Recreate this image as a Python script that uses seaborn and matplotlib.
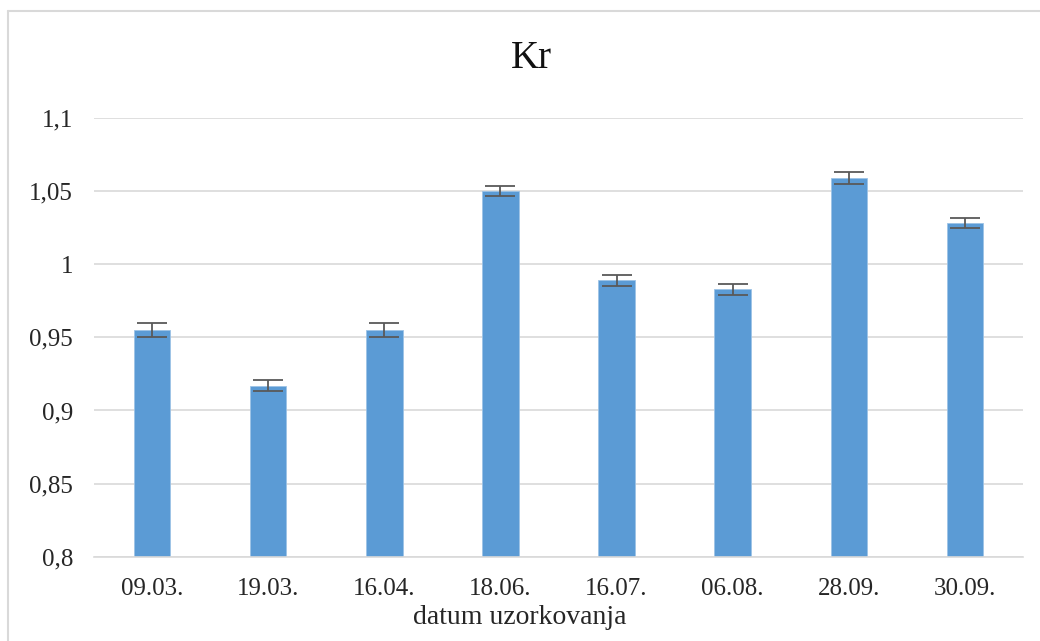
import matplotlib
matplotlib.use("Agg")
import matplotlib.pyplot as plt
from matplotlib.lines import Line2D
import seaborn as sns
import pandas as pd
import numpy as np

dates = ["09.03.", "19.03.", "16.04.", "18.06.", "16.07.", "06.08.", "28.09.", "30.09."]
values = [0.955, 0.917, 0.955, 1.050, 0.989, 0.983, 1.059, 1.028]
errors = [0.0045, 0.0037, 0.0045, 0.0033, 0.0037, 0.0038, 0.0042, 0.0034]
yticks = [0.8, 0.85, 0.9, 0.95, 1.0, 1.05, 1.1]
ytick_labels = ["0,8", "0,85", "0,9", "0,95", "1", "1,05", "1,1"]

sns.set_theme(style="white")
plt.rcParams['font.family'] = ['Liberation Serif', 'DejaVu Serif']

df = pd.DataFrame({"datum": dates, "Kr": values})

fig = plt.figure(figsize=(10.4, 6.41), dpi=100)
ax = fig.add_axes([94/1040, 1 - 556.7/641, (1023 - 94)/1040, (556.7 - 118)/641])

sns.barplot(data=df, x="datum", y="Kr", color="#5B9BD5", saturation=1,
            width=0.315, errorbar=None, ax=ax, edgecolor="#9DC3E6", linewidth=0.6)
ax.errorbar(np.arange(len(dates)), values, yerr=errors, fmt="none",
            ecolor="#595959", elinewidth=1.3, capsize=11, capthick=1.3, zorder=5)

ax.set_ylim(0.8, 1.1)
ax.set_xlim(-0.5, len(dates) - 0.5)
ax.set_yticks(yticks)
ax.set_yticklabels(ytick_labels)
ax.yaxis.grid(True, color="#D9D9D9", linewidth=1.2)
ax.set_axisbelow(True)
for s in ["left", "right", "top"]:
    ax.spines[s].set_visible(False)
ax.spines["bottom"].set_color("#D9D9D9")
ax.spines["bottom"].set_linewidth(1.2)
ax.tick_params(axis="both", length=0, labelsize=18, colors="#262626")
ax.tick_params(axis="y", pad=15)
ax.tick_params(axis="x", pad=15)
ax.set_ylabel("")
ax.set_xlabel("datum uzorkovanja", fontsize=20, color="#262626")
ax.xaxis.set_label_coords((520 - 94) / 929, -(618 - 556.7) / 438.7)
ax.xaxis.label.set_va("center")
fig.text(531 / 1040, 1 - 58/641, "Kr", ha="center", va="center", fontsize=28, color="#111111")

fig.add_artist(Line2D([8/1040, 1], [1 - 11/641, 1 - 11/641], color="#D9D9D9", linewidth=1.5))
fig.add_artist(Line2D([8/1040, 8/1040], [0, 1 - 11/641], color="#D9D9D9", linewidth=1.5))

fig.savefig("out.png", dpi=100)
